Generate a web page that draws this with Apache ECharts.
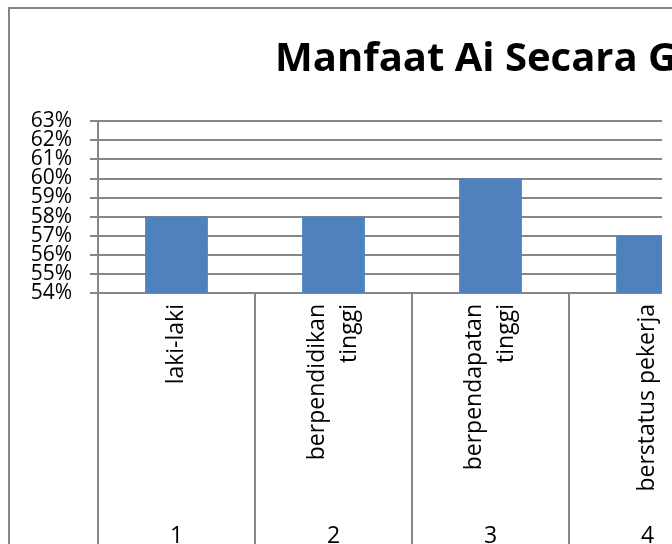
<!DOCTYPE html>
<html>
<head>
<meta charset="utf-8">
<script src="https://cdn.jsdelivr.net/npm/echarts@6/dist/echarts.min.js"></script>
<style>
  html, body { margin: 0; padding: 0; background: #fff; overflow: hidden; }
  #wrap { width: 672px; height: 544px; overflow: hidden; position: relative; }
  #chart { width: 740px; height: 544px; position: absolute; left: 0; top: 0; }
</style>
</head>
<body>
<div id="wrap"><div id="chart"></div></div>
<script>
// data
var categories = ["laki-laki", "berpendidikan\ntinggi", "berpendapatan\ntinggi", "berstatus pekerja"];
var groupLabels = ["1", "2", "3", "4"];
var values = [58, 58, 60, 57];
var yTicks = ["54%", "55%", "56%", "57%", "58%", "59%", "60%", "61%", "62%", "63%"];
var yMin = 54, yMax = 63, yStep = 1;

var gray = "#868686";
var font = "'Open Sans', sans-serif";

var myChart = echarts.init(document.getElementById("chart"));
var option = {
  animation: false,
  backgroundColor: "#fff",
  graphic: [
    {
      // chart border
      type: "rect",
      shape: { x: 9, y: 8, width: 900, height: 700 },
      style: { fill: null, stroke: gray, lineWidth: 2 }
    },
    {
      // plot area is cut off on the right in the original
      type: "rect",
      z: 100,
      shape: { x: 662, y: 112, width: 100, height: 184 },
      style: { fill: "#fff" }
    }
  ],
  title: {
    text: "Manfaat Ai Secara G",
    left: 275,
    top: 36,
    padding: 0,
    textStyle: { fontFamily: font, fontWeight: "bold", fontSize: 40, lineHeight: 48, color: "#000" }
  },
  grid: { left: 98, top: 121, width: 628, height: 172, containLabel: false, outerBoundsMode: "none" },
  xAxis: [
    {
      type: "category",
      data: categories,
      axisLine: { lineStyle: { color: gray, width: 2 } },
      axisTick: { show: true, alignWithLabel: false, length: 251, lineStyle: { color: gray, width: 2 } },
      axisLabel: {
        rotate: 90, margin: 11, interval: 0,
        fontFamily: font, fontSize: 23, lineHeight: 32, color: "#000"
      }
    },
    {
      type: "category",
      data: groupLabels,
      position: "bottom",
      axisLine: { show: false },
      axisTick: { show: false },
      axisLabel: { margin: 232, interval: 0, fontFamily: font, fontSize: 23, color: "#000" }
    }
  ],
  yAxis: [
    {
      type: "value",
      min: yMin, max: yMax, interval: yStep,
      axisLine: { show: true, lineStyle: { color: gray, width: 2 } },
      axisTick: { show: true, length: 8, lineStyle: { color: gray, width: 2 } },
      splitLine: { lineStyle: { color: gray, width: 2 } },
      axisLabel: { show: false }
    },
    {
      // tick labels, all of them shown even though they touch
      type: "category",
      data: yTicks,
      position: "left",
      boundaryGap: false,
      axisLine: { show: false },
      axisTick: { show: false },
      splitLine: { show: false },
      axisLabel: { interval: 0, margin: 26, fontFamily: font, fontSize: 21, color: "#000" }
    }
  ],
  series: [{
    type: "bar",
    data: values,
    barWidth: "40%",
    itemStyle: { color: "#4F81BD" }
  }]
};
myChart.setOption(option);
</script>
</body>
</html>
